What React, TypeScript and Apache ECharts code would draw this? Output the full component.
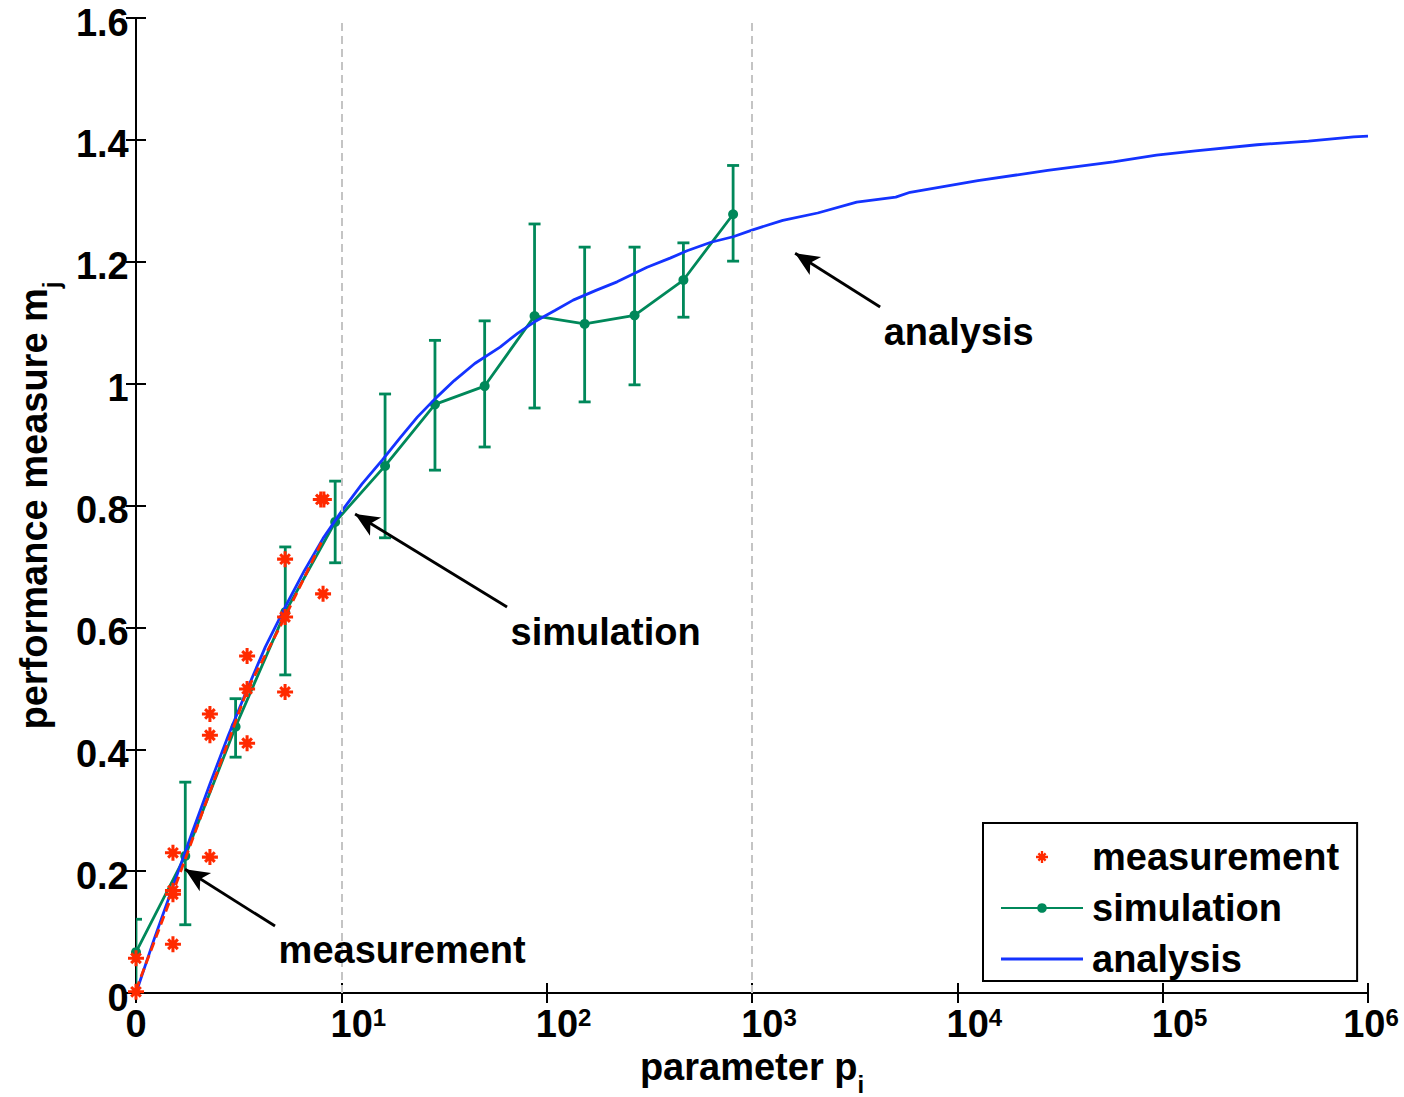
import React, { useEffect, useRef } from 'react';
import * as echarts from 'echarts';

// ---------------- data ----------------
// x positions are in decades of the log axis (0 => "0", 1 => 10^1, ...)
const xTickLabels = ['0', '10^1', '10^2', '10^3', '10^4', '10^5', '10^6'];
const yTickLabels = ['0', '0.2', '0.4', '0.6', '0.8', '1', '1.2', '1.4', '1.6'];

const measurementX = [0, 0, 0.18, 0.18, 0.18, 0.18, 0.36, 0.36, 0.36, 0.541, 0.541, 0.541, 0.726, 0.726, 0.726, 0.9, 0.915, 0.911];
const measurementY = [0.057, 0.002, 0.23, 0.168, 0.162, 0.08, 0.458, 0.423, 0.223, 0.553, 0.499, 0.41, 0.712, 0.617, 0.494, 0.81, 0.81, 0.655];

const measurementMeanX = [0, 0.18, 0.36, 0.541, 0.726, 0.911];
const measurementMeanY = [0.005, 0.165, 0.33, 0.497, 0.617, 0.745];

const simulationX = [0, 0.24, 0.485, 0.727, 0.97, 1.213, 1.456, 1.698, 1.941, 2.185, 2.428, 2.666, 2.908];
const simulationY = [0.067, 0.225, 0.437, 0.625, 0.773, 0.865, 0.966, 0.996, 1.111, 1.098, 1.112, 1.17, 1.278];
const simulationLow = [0.0, 0.112, 0.387, 0.522, 0.706, 0.747, 0.858, 0.896, 0.96, 0.97, 0.998, 1.109, 1.201];
const simulationHigh = [0.121, 0.346, 0.483, 0.732, 0.84, 0.983, 1.071, 1.103, 1.262, 1.224, 1.224, 1.231, 1.358];

const analysisX = [0, 0.09, 0.18, 0.27, 0.36, 0.45, 0.541, 0.63, 0.726, 0.82, 0.911, 1.0, 1.1, 1.2, 1.286, 1.37, 1.456, 1.55, 1.65, 1.773, 1.86, 1.939, 2.04, 2.129, 2.24, 2.343, 2.489, 2.601, 2.684, 2.8, 2.908, 3.0, 3.15, 3.32, 3.51, 3.7, 3.77, 4.1, 4.44, 4.76, 4.97, 5.16, 5.46, 5.71, 5.93, 6.0];
const analysisY = [0, 0.09, 0.175, 0.26, 0.343, 0.423, 0.498, 0.568, 0.633, 0.693, 0.746, 0.79, 0.835, 0.875, 0.911, 0.945, 0.975, 1.005, 1.033, 1.06, 1.083, 1.101, 1.12, 1.137, 1.153, 1.167, 1.191, 1.206, 1.218, 1.232, 1.241, 1.252, 1.268, 1.28, 1.298, 1.306, 1.314, 1.333, 1.35, 1.364, 1.375, 1.382, 1.392, 1.398, 1.405, 1.406];

const dividerX = [1, 3];

const annotationText = ['analysis', 'simulation', 'measurement'];
const annotationTextAt = [[3.639, 1.084], [1.822, 0.592], [0.692, 0.07]];
const annotationArrowFrom = [[3.624, 1.1257], [1.807, 0.6334], [0.677, 0.1099]];
const annotationArrowTo = [[3.21, 1.214], [1.067, 0.786], [0.239, 0.203]];

// ---------------- styles ----------------
const FONT = '"Liberation Sans", Arial, Helvetica, sans-serif';
const RED = '#ff2a00';
const GREEN = '#00885a';
const BLUE = '#1433ff';
const FS = 38;
const LW = 2.8;

const ASTERISK =
  'path://M8.1,0 L11.9,0 L11.9,20 L8.1,20 Z M0,8.1 L20,8.1 L20,11.9 L0,11.9 Z ' +
  'M5.3,2.62 L17.38,14.7 L14.7,17.38 L2.62,5.3 Z ' +
  'M17.38,5.3 L5.3,17.38 L2.62,14.7 L14.7,2.62 Z';

const subRich = {
  m: { fontSize: FS, fontWeight: 'bold', fontFamily: FONT, color: '#000', lineHeight: 42, verticalAlign: 'top' },
  s: { fontSize: 24, fontWeight: 'bold', fontFamily: FONT, color: '#000', lineHeight: 24, verticalAlign: 'top', padding: [24, 0, 0, 0] },
};

function buildOption(): any {
  const axisLine = { show: true, lineStyle: { color: '#000', width: 2 } };
  const axisTick = { show: true, inside: true, length: 10, lineStyle: { color: '#000', width: 2 } };

  return {
    animation: false,
    backgroundColor: '#fff',
    grid: { left: 136, right: 36, top: 18, bottom: 104, containLabel: false, outerBoundsMode: 'none' },
    legend: {
      show: true,
      orient: 'vertical',
      left: 983,
      top: 823,
      padding: [13, 18, 1, 17],
      itemGap: 9,
      itemWidth: 82,
      itemHeight: 12,
      borderColor: '#000',
      borderWidth: 2,
      borderRadius: 0,
      backgroundColor: '#fff',
      selectedMode: false,
      textStyle: { fontSize: FS, fontWeight: 'bold', fontFamily: FONT, color: '#000', lineHeight: 42, padding: [0, 0, 0, 4] },
      data: [
        { name: 'measurement', icon: ASTERISK },
        { name: 'simulation' },
        { name: 'analysis', icon: 'path://M0,0 L82,0 L82,2.8 L0,2.8 Z' },
      ],
    },
    xAxis: [
      {
        type: 'value',
        min: 0,
        max: 6,
        interval: 1,
        position: 'bottom',
        name: '{m|parameter p}{s|i}',
        nameLocation: 'middle',
        nameGap: 55,
        nameTextStyle: { rich: subRich },
        axisLine,
        axisTick,
        splitLine: { show: false },
        axisLabel: {
          margin: 12,
          formatter: (v: number) => {
            const s = xTickLabels[Math.round(v)];
            if (!s.includes('^')) return '{z|' + s + '}';
            const [base, exp] = s.split('^');
            return '{' + (Math.round(v) === 6 ? 'e' : 'b') + '|' + base + '}{s|' + exp + '}';
          },
          rich: {
            z: { fontSize: FS, fontWeight: 'bold', fontFamily: FONT, color: '#000', lineHeight: 42, verticalAlign: 'top' },
            b: { fontSize: FS, fontWeight: 'bold', fontFamily: FONT, color: '#000', lineHeight: 42, verticalAlign: 'top', padding: [0, 0, 0, 34] },
            e: { fontSize: FS, fontWeight: 'bold', fontFamily: FONT, color: '#000', lineHeight: 42, verticalAlign: 'top', padding: [0, 0, 0, 6] },
            s: { fontSize: 24, fontWeight: 'bold', fontFamily: FONT, color: '#000', lineHeight: 24, verticalAlign: 'top' },
          },
        },
      },
      {
        type: 'value',
        min: 0,
        max: 6,
        interval: 1,
        position: 'top',
        axisLine,
        axisTick,
        axisLabel: { show: false },
        splitLine: { show: false },
      },
    ],
    yAxis: [
      {
        type: 'value',
        min: 0,
        max: 1.6,
        interval: 0.2,
        position: 'left',
        name: '{m|performance measure m}{s|j}',
        nameLocation: 'middle',
        nameGap: 79,
        nameTextStyle: { rich: subRich },
        axisLine,
        axisTick,
        splitLine: { show: false },
        axisLabel: {
          margin: 7,
          formatter: (v: number) => '{v|' + yTickLabels[Math.round(v / 0.2)] + '}{p| }',
          rich: {
            v: { fontSize: FS, fontWeight: 'bold', fontFamily: FONT, color: '#000', lineHeight: 38, verticalAlign: 'bottom' },
            p: { fontSize: 1, lineHeight: 47, verticalAlign: 'bottom' },
          },
        },
      },
      {
        type: 'value',
        min: 0,
        max: 1.6,
        interval: 0.2,
        position: 'right',
        axisLine,
        axisTick,
        axisLabel: { show: false },
        splitLine: { show: false },
      },
    ],
    series: [
      {
        type: 'custom',
        name: 'simulation error',
        clip: true,
        silent: true,
        z: 2,
        data: simulationX.map((x, i) => [x, simulationLow[i], simulationHigh[i]]),
        encode: { x: 0, y: [1, 2] },
        renderItem: (_params: any, api: any) => {
          const x = api.value(0);
          const top = api.coord([x, api.value(2)]);
          const bot = api.coord([x, api.value(1)]);
          const hw = 6;
          const style = { stroke: GREEN, lineWidth: LW };
          return {
            type: 'group',
            children: [
              { type: 'line', shape: { x1: top[0], y1: top[1], x2: bot[0], y2: bot[1] }, style },
              { type: 'line', shape: { x1: top[0] - hw, y1: top[1], x2: top[0] + hw, y2: top[1] }, style },
              { type: 'line', shape: { x1: bot[0] - hw, y1: bot[1], x2: bot[0] + hw, y2: bot[1] }, style },
            ],
          };
        },
      },
      {
        type: 'line',
        name: 'simulation',
        z: 3,
        color: GREEN,
        data: simulationX.map((x, i) => [x, simulationY[i]]),
        symbol: 'circle',
        symbolSize: 10,
        showSymbol: true,
        itemStyle: { color: GREEN, opacity: 1 },
        lineStyle: { color: GREEN, width: LW },
      },
      {
        type: 'line',
        name: 'analysis',
        z: 4,
        color: BLUE,
        data: analysisX.map((x, i) => [x, analysisY[i]]),
        symbol: 'none',
        showSymbol: false,
        itemStyle: { color: BLUE },
        lineStyle: { color: BLUE, width: LW },
      },
      {
        type: 'line',
        name: 'measurement mean',
        z: 5,
        color: RED,
        data: measurementMeanX.map((x, i) => [x, measurementMeanY[i]]),
        symbol: 'none',
        showSymbol: false,
        lineStyle: { color: RED, width: LW, type: [9, 5] },
      },
      {
        type: 'scatter',
        name: 'measurement',
        z: 6,
        color: RED,
        data: measurementX.map((x, i) => [x, measurementY[i]]),
        symbol: ASTERISK,
        symbolSize: 16,
        itemStyle: { color: RED, opacity: 1 },
      },
      {
        type: 'line',
        name: 'annotations',
        z: 7,
        data: [],
        silent: true,
        markLine: {
          silent: true,
          animation: false,
          symbol: ['none', 'none'],
          label: { show: false },
          lineStyle: { color: '#000', width: LW, type: 'solid' },
          emphasis: { disabled: true },
          data: [
            ...dividerX.map((x) => ({ xAxis: x, lineStyle: { color: '#c4c4c4', width: 2, type: [8, 5] } })),
            ...annotationArrowFrom.map((from, i) => [
              { coord: from, symbol: 'none' },
              { coord: annotationArrowTo[i], symbol: 'arrow', symbolSize: [16, 24] },
            ]),
          ],
        },
        markPoint: {
          silent: true,
          animation: false,
          symbol: 'circle',
          symbolSize: 1,
          itemStyle: { color: 'rgba(0,0,0,0)' },
          label: {
            show: true,
            position: 'right',
            distance: 0,
            formatter: '{b}',
            color: '#000',
            fontSize: FS,
            fontWeight: 'bold',
            fontFamily: FONT,
          },
          data: annotationText.map((t, i) => ({ name: t, coord: annotationTextAt[i] })),
        },
      },
    ],
  };
}

export default function App() {
  const ref = useRef<HTMLDivElement>(null);
  useEffect(() => {
    const chart = echarts.init(ref.current!, null, { renderer: 'svg' });
    chart.setOption(buildOption());
    return () => chart.dispose();
  }, []);
  return (
    <div
      ref={ref}
      style={{ position: 'absolute', left: 0, top: 0, width: 1404, height: 1097, background: '#fff' }}
    />
  );
}
